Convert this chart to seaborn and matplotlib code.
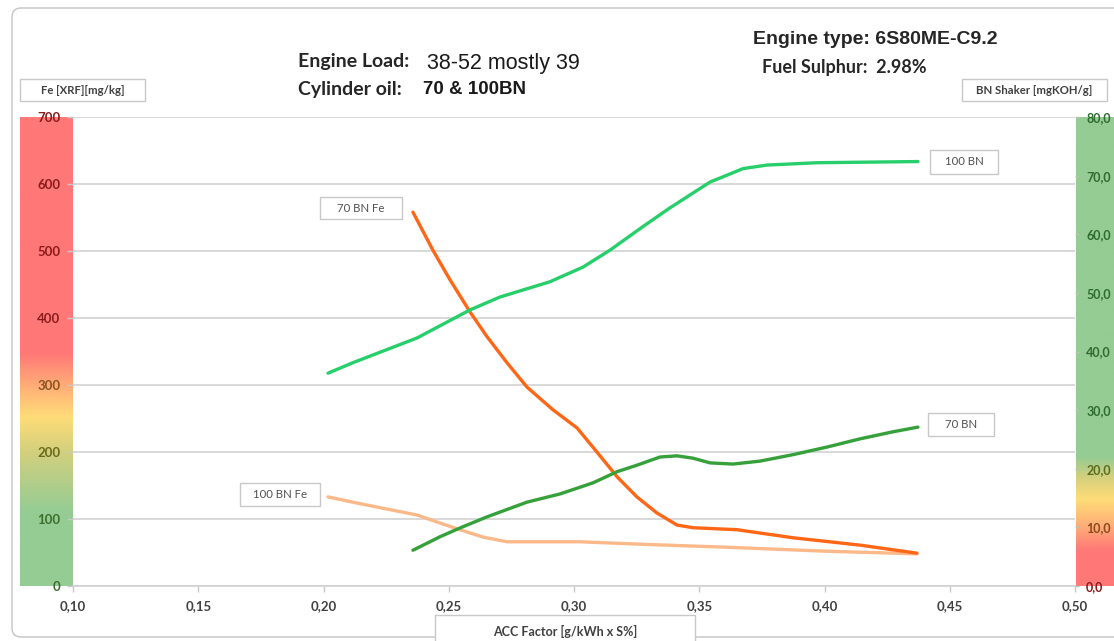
import numpy as np
import pandas as pd
import matplotlib
matplotlib.use("Agg")
import matplotlib.pyplot as plt
import seaborn as sns
from matplotlib.colors import LinearSegmentedColormap
from matplotlib.patches import Rectangle, FancyBboxPatch

# ---- measured data: ACC factor [g/kWh x S%] vs. Fe [mg/kg] and BN [mgKOH/g] ----
acc_100bn = [0.2018, 0.2118, 0.2373, 0.2585, 0.2705, 0.2904, 0.3036, 0.3144,
             0.3275, 0.3383, 0.3543, 0.3675, 0.3770, 0.3970, 0.4373]
bn_100bn = [36.3, 38.1, 42.3, 47.1, 49.3, 51.9, 54.4, 57.3,
            61.3, 64.5, 68.9, 71.2, 71.8, 72.2, 72.4]

acc_70bn = [0.2357, 0.2465, 0.2545, 0.2653, 0.2812, 0.2944, 0.3076, 0.3172,
            0.3251, 0.3343, 0.3411, 0.3475, 0.3543, 0.3635, 0.3742, 0.3874,
            0.4010, 0.4142, 0.4273, 0.4373]
bn_70bn = [6.1, 8.4, 9.9, 11.8, 14.3, 15.7, 17.6, 19.5,
           20.6, 22.0, 22.2, 21.8, 21.0, 20.8, 21.3, 22.4,
           23.7, 25.1, 26.3, 27.1]

acc_70fe = [0.2357, 0.2437, 0.2505, 0.2585, 0.2653, 0.2733, 0.2812, 0.2916,
            0.3012, 0.3076, 0.3172, 0.3251, 0.3331, 0.3411, 0.3475, 0.3651,
            0.3874, 0.4142, 0.4369]
fe_70fe = [558, 501, 457, 409, 372, 333, 297, 263,
           236, 207, 163, 133, 109, 91, 87, 84,
           72, 61, 49]

acc_100fe = [0.2018, 0.2118, 0.2238, 0.2373, 0.2465, 0.2545, 0.2637, 0.2733,
             0.3024, 0.3290, 0.3600, 0.4000, 0.4369]
fe_100fe = [133, 125, 116, 106, 94, 84, 73, 66,
            66, 62, 58, 52, 48]

x_ticks = [0.10, 0.15, 0.20, 0.25, 0.30, 0.35, 0.40, 0.45, 0.50]
x_tick_labels = ["0,10", "0,15", "0,20", "0,25", "0,30", "0,35", "0,40", "0,45", "0,50"]
fe_ticks = [0, 100, 200, 300, 400, 500, 600, 700]
bn_ticks = [0, 10, 20, 30, 40, 50, 60, 70, 80]
bn_tick_labels = ["0,0", "10,0", "20,0", "30,0", "40,0", "50,0", "60,0", "70,0", "80,0"]

# ---- styling ----
sns.set_theme(style="white")
plt.rcParams["font.family"] = ["Lato", "DejaVu Sans"]

W, H = 1114, 641
fig = plt.figure(figsize=(W / 100, H / 100), dpi=100)
fig.patch.set_facecolor("white")


def box(x0, y0, x1, y1):
    """Pixel box (top-left origin) -> figure fraction rect."""
    return [x0 / W, 1 - y1 / H, (x1 - x0) / W, (y1 - y0) / H]


# outer chart frame
fig.add_artist(FancyBboxPatch((12, H - 637), 1140, 629,
                              boxstyle="round,pad=0,rounding_size=9",
                              transform=None, fill=False, ec="#c4c4c4", lw=1.0))

GREEN = "#94cc94"
YGREEN = "#d3d07d"
YELLOW = "#ffdc78"
ORANGE = "#ffac77"
RED = "#ff7878"

# severity band for Fe (left)
fe_cmap = LinearSegmentedColormap.from_list(
    "fe_band",
    [(0.0, GREEN), (110 / 700, GREEN), (200 / 700, YGREEN), (252 / 700, YELLOW),
     (300 / 700, ORANGE), (347 / 700, RED), (1.0, RED)])
band_l = fig.add_axes(box(20, 117, 73, 586))
band_l.imshow(np.linspace(0, 1, 512).reshape(-1, 1), aspect="auto", origin="lower",
              cmap=fe_cmap, extent=[0, 1, 0, 700])
band_l.axis("off")
band_l.set_zorder(0)

# severity band for BN (right)
bn_cmap = LinearSegmentedColormap.from_list(
    "bn_band",
    [(0.0, RED), (6 / 80, RED), (10 / 80, ORANGE), (14.7 / 80, YELLOW),
     (18.5 / 80, YGREEN), (22 / 80, GREEN), (1.0, GREEN)])
band_r = fig.add_axes(box(1076, 117, 1140, 586))
band_r.imshow(np.linspace(0, 1, 512).reshape(-1, 1), aspect="auto", origin="lower",
              cmap=bn_cmap, extent=[0, 1, 0, 80])
band_r.axis("off")
band_r.set_zorder(0)

# main axes: Fe on the left scale, BN on the right scale
ax = fig.add_axes(box(73, 117, 1075, 586))
ax.set_zorder(1)
ax.patch.set_visible(False)
ax2 = ax.twinx()
ax2.set_zorder(2)
ax2.patch.set_visible(False)

ax.yaxis.grid(True, color="#d6d6d6", lw=1.3)
ax.xaxis.grid(False)

line_kw = dict(sort=False, legend=False, lw=2.4, estimator=None)
sns.lineplot(data=pd.DataFrame({"acc": acc_100fe, "fe": fe_100fe}), x="acc", y="fe",
             ax=ax, color="#fbb98a", **line_kw)
sns.lineplot(data=pd.DataFrame({"acc": acc_70fe, "fe": fe_70fe}), x="acc", y="fe",
             ax=ax, color="#ff6616", **line_kw)
sns.lineplot(data=pd.DataFrame({"acc": acc_100bn, "bn": bn_100bn}), x="acc", y="bn",
             ax=ax2, color="#27cf6b", **line_kw)
sns.lineplot(data=pd.DataFrame({"acc": acc_70bn, "bn": bn_70bn}), x="acc", y="bn",
             ax=ax2, color="#36a03a", **line_kw)

ax.set_xlim(0.10, 0.50)
ax.set_ylim(0, 700)
ax2.set_ylim(0, 80)
ax.set_xlabel("")
ax.set_ylabel("")
ax2.set_ylabel("")

ax.set_xticks(x_ticks)
ax.set_xticklabels(x_tick_labels)
ax.set_yticks(fe_ticks)
ax.set_yticklabels([str(v) for v in fe_ticks])
ax2.set_yticks(bn_ticks)
ax2.set_yticklabels(bn_tick_labels)

tick_font = dict(family=["Lato", "DejaVu Sans"], weight="bold", size=9.5)
right_font = dict(family=["Lato", "DejaVu Sans"], weight="bold", size=9)
ax.tick_params(axis="x", direction="out", length=4, width=1, color="#c8c8c8",
               pad=6, labelcolor="#404040", bottom=True)
ax.tick_params(axis="y", direction="out", length=4, width=1, color="#c8c8c8",
               pad=5, left=True)
ax2.tick_params(axis="y", direction="out", length=3, width=1, color="#b0c8b0",
                pad=5, right=True)
for lab in ax.get_xticklabels():
    lab.set_fontproperties(tick_font)
    lab.set_color("#404040")

fe_colors = ["#3e6e2c", "#3e6e2c", "#6a6a1e", "#8a5520",
             "#8b1c1c", "#8b1c1c", "#8b1c1c", "#8b1c1c"]
for lab, c in zip(ax.get_yticklabels(), fe_colors):
    lab.set_fontproperties(tick_font)
    lab.set_color(c)

bn_colors = ["#8b1c1c", "#8a4a1a", "#5c6a1c", "#2f6a2f", "#2f6a2f",
             "#2f6a2f", "#2f6a2f", "#2f6a2f", "#2f6a2f"]
for lab, c in zip(ax2.get_yticklabels(), bn_colors):
    lab.set_fontproperties(right_font)
    lab.set_color(c)

for a in (ax, ax2):
    for s in ("top", "right", "left"):
        a.spines[s].set_visible(False)
ax2.spines["bottom"].set_visible(False)
ax.spines["bottom"].set_color("#d0d0d0")
ax.spines["bottom"].set_linewidth(1.2)


def label_box(x0, y0, x1, y1, text, size=8.2, weight="normal", color="#505050"):
    fig.add_artist(Rectangle((x0 / W + 0.0012, 1 - y1 / H - 0.0022),
                             (x1 - x0) / W, (y1 - y0) / H,
                             transform=fig.transFigure, fc="#e6e6e6", ec="none", zorder=5))
    fig.add_artist(Rectangle((x0 / W, 1 - y1 / H), (x1 - x0) / W, (y1 - y0) / H,
                             transform=fig.transFigure, fc="white", ec="#c8c8c8",
                             lw=1.0, zorder=6))
    fig.text((x0 + x1) / 2 / W, 1 - (y0 + y1) / 2 / H, text, ha="center", va="center",
             fontsize=size, color=color, weight=weight, zorder=7)


# axis titles
label_box(20, 79, 145, 101, "Fe [XRF][mg/kg]", size=8.2, weight="bold", color="#404040")
label_box(962, 79, 1107, 101, "BN Shaker [mgKOH/g]", size=8.2, weight="bold", color="#404040")
label_box(435, 615, 695, 648, "ACC Factor [g/kWh x S%]", size=9, weight="bold",
          color="#404040")

# series labels
label_box(930, 150, 998, 174, "100 BN")
label_box(320, 197, 402, 219, "70 BN Fe")
label_box(928, 413, 994, 436, "70 BN")
label_box(240, 483, 320, 506, "100 BN Fe")

# header text
fig.text(298 / W, 1 - 62 / H, "Engine Load:", fontsize=14, weight="bold",
         color="#262626", va="center", ha="left")
fig.text(427 / W, 1 - 63 / H, "38-52 mostly 39", fontsize=15.5,
         family=["Liberation Sans", "DejaVu Sans"], color="#1a1a1a",
         va="center", ha="left")
fig.text(298 / W, 1 - 89 / H, "Cylinder oil:", fontsize=14, weight="bold",
         color="#262626", va="center", ha="left")
fig.text(423 / W, 1 - 90 / H, "70 & 100BN", fontsize=13.5, weight="bold",
         family=["Liberation Sans", "DejaVu Sans"], color="#1a1a1a",
         va="center", ha="left")
fig.text(753 / W, 1 - 40 / H, "Engine type: 6S80ME-C9.2", fontsize=14,
         weight="bold", family=["Liberation Sans", "DejaVu Sans"], color="#262626",
         va="center", ha="left")
fig.text(762 / W, 1 - 67 / H, "Fuel Sulphur:  2.98%", fontsize=13, weight="bold",
         color="#262626", va="center", ha="left")

fig.savefig("out.png", dpi=100)
